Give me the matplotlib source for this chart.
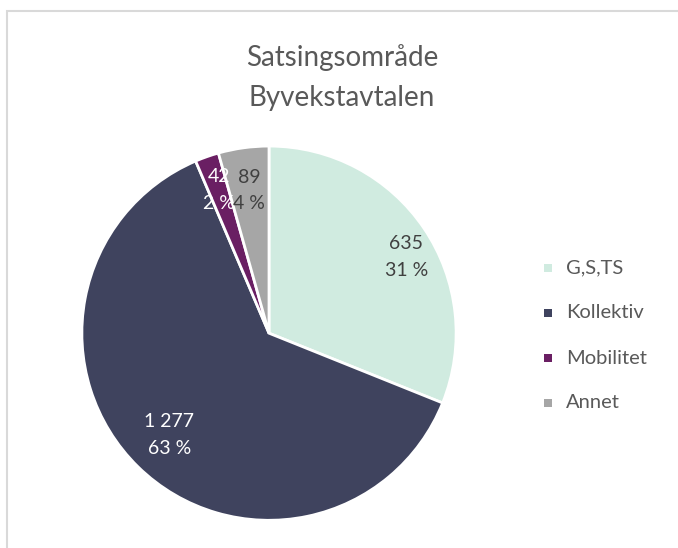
import numpy as np
import matplotlib
matplotlib.use("Agg")
import matplotlib.pyplot as plt
from matplotlib.patches import Rectangle

plt.rcParams["font.family"] = ["Lato", "DejaVu Sans"]

# data
categories = ["G,S,TS", "Kollektiv", "Mobilitet", "Annet"]
values = [635, 1277, 42, 89]
colors = ["#d0ebe0", "#3f435e", "#6a1f63", "#a6a6a6"]
label_colors = ["#404040", "white", "white", "#404040"]
label_radius = [0.84, 0.76, 0.81, 0.77]
label_turn = [-5, 0, 0, 0]  # degrees, label placement tweak

fig = plt.figure(figsize=(6.78, 5.48), dpi=100)

# chart border (extends beyond the right/bottom of the crop)
fig.patches.append(Rectangle((7 / 678, -0.1), 1.2, (548 - 11.5) / 548 + 0.1,
                             transform=fig.transFigure, fill=False,
                             edgecolor="#d9d9d9", linewidth=1.5))

fig.text(342 / 678, 1 - 58 / 548, "Satsingsområde", ha="center", va="center",
         fontsize=20, color="#595959")
fig.text(342 / 678, 1 - 98 / 548, "Byvekstavtalen", ha="center", va="center",
         fontsize=20, color="#595959")

ax = fig.add_axes([0.118, 0.047, 0.5575, 0.69])
wedges, _ = ax.pie(values, colors=colors, startangle=90, counterclock=False,
                   wedgeprops=dict(edgecolor="white", linewidth=2))
ax.set_xlim(-1.01, 1.01)
ax.set_ylim(-1.01, 1.01)
ax.set_aspect("equal")

total = sum(values)
for w, v, c, r, t in zip(wedges, values, label_colors, label_radius, label_turn):
    mid = np.deg2rad((w.theta1 + w.theta2) / 2 + t)
    pct = round(v / total * 100)
    txt = f"{v:,}".replace(",", " ") + f"\n{pct} %"
    ax.text(r * np.cos(mid), r * np.sin(mid), txt, ha="center", va="center",
            fontsize=14, color=c, linespacing=1.7)

# legend
for i, (cat, col) in enumerate(zip(categories, colors)):
    y = 1 - (268 + 45 * i) / 548
    fig.patches.append(Rectangle((544 / 678, y - 4 / 548), 8 / 678, 8 / 548,
                                 transform=fig.transFigure, facecolor=col,
                                 edgecolor="none"))
    fig.text(566 / 678, y, cat, ha="left", va="center", fontsize=14.5,
             color="#595959")

fig.savefig("out.png", dpi=100)
